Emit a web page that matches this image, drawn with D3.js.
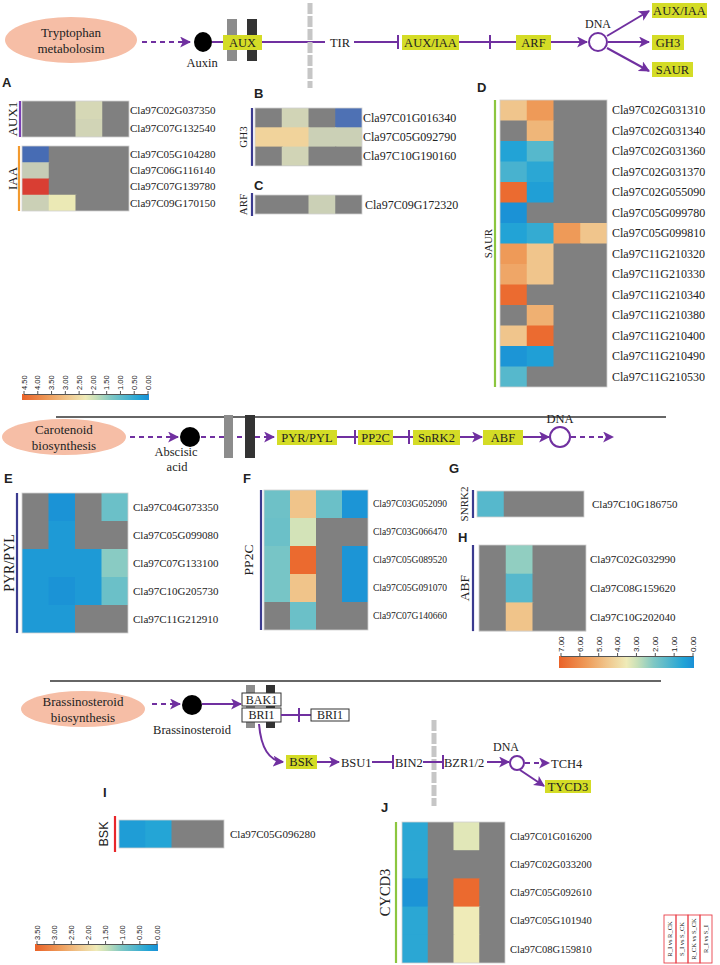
<!DOCTYPE html>
<html><head><meta charset="utf-8">
<script src="https://cdn.jsdelivr.net/npm/d3@7"></script>
<style>
body{margin:0;background:#fff}
svg{display:block}
text{font-family:"Liberation Serif","Times New Roman",serif;fill:#222}
</style>
</head><body>
<svg id="c" width="720" height="965"></svg>
<script>
// ---------------- DATA ----------------
const comparisons = ["R_I vs R_CK","S_I vs S_CK","R_CK vs S_CK","R_I vs S_I"];

const aux1Genes = ["Cla97C02G037350","Cla97C07G132540"];
const aux1Values = [[null,null,2.4,null],[null,null,2.3,null]];
const iaaGenes = ["Cla97C05G104280","Cla97C06G116140","Cla97C07G139780","Cla97C09G170150"];
const iaaValues = [[0.2,null,null,null],[2.1,null,null,null],[4.4,null,null,null],[2.2,2.8,null,null]];
const gh3Genes = ["Cla97C01G016340","Cla97C05G092790","Cla97C10G190160"];
const gh3Values = [[null,2.3,null,0.3],[3.3,3.3,2.2,2.2],[null,2.3,null,null]];
const arfGenes = ["Cla97C09G172320"];
const arfValues = [[null,null,2.2,null]];
const saurGenes = ["Cla97C02G031310","Cla97C02G031340","Cla97C02G031360","Cla97C02G031370","Cla97C02G055090","Cla97C05G099780","Cla97C05G099810","Cla97C11G210320","Cla97C11G210330","Cla97C11G210340","Cla97C11G210380","Cla97C11G210400","Cla97C11G210490","Cla97C11G210530"];
const saurValues = [[2.9,3.6,null,null],[null,3.15,null,null],[0.35,0.9,null,null],[0.75,0.45,null,null],[4.35,0.28,null,null],[0.05,null,null,null],[0.35,0.55,3.6,2.9],[3.6,2.9,null,null],[3.4,2.9,null,null],[4.35,null,null,null],[null,3.25,null,null],[2.9,4.35,null,null],[0.1,0.28,null,null],[0.9,null,null,null]];

const pyrGenes = ["Cla97C04G073350","Cla97C05G099080","Cla97C07G133100","Cla97C10G205730","Cla97C11G212910"];
const pyrValues = [[null,0.1,null,1.75],[null,0.3,null,null],[0.3,0.3,0.3,2.2],[0.3,0.1,0.3,1.75],[0.3,0.3,null,null]];
const pp2cGenes = ["Cla97C03G052090","Cla97C03G066470","Cla97C05G089520","Cla97C05G091070","Cla97C07G140660"];
const pp2cValues = [[1.8,4.55,1.75,0.15],[1.75,3.1,null,null],[1.95,6.8,null,0.15],[1.95,4.55,null,0.15],[null,1.75,null,null]];
const snrk2Genes = ["Cla97C10G186750"];
const snrk2Values = [[1.4,null,null,null]];
const abfGenes = ["Cla97C02G032990","Cla97C08G159620","Cla97C10G202040"];
const abfValues = [[null,2.3,null,null],[null,1.4,null,null],[null,4.55,null,null]];

const bskGenes = ["Cla97C05G096280"];
const bskValues = [[0.18,0.3,null,null]];
const cycd3Genes = ["Cla97C01G016200","Cla97C02G033200","Cla97C05G092610","Cla97C05G101940","Cla97C08G159810"];
const cycd3Values = [[0.35,null,1.65,null],[0.35,null,null,null],[0.07,null,3.4,null],[0.35,null,1.75,null],[0.35,null,1.75,null]];

const legend1Ticks = [4.5,4,3.5,3,2.5,2,1.5,1,0.5,0];
const legend2Ticks = [7,6,5,4,3,2,1,0];
const legend3Ticks = [3.5,3,2.5,2,1.5,1,0.5,0];

// ---------------- STYLE ----------------
const NA = "#808080";
const PUR = "#7030a0";
const YEL = "#d4dc26";
const SALMON = "#f6bea6";
const stopsT = [0,0.08,0.2,0.3,0.42,0.5,0.65,0.8,1];
const stopsC = ["#1a8fd6","#22a4d6","#56b8cc","#80c8c4","#c8e0b8","#efebb8","#f0c48a","#ee9a58","#ea6228"];
const mainT = d3.scaleLinear().domain(stopsT).range(stopsC).interpolate(d3.interpolateRgb).clamp(true);
const colorFor = max => v => mainT(v / max);
const colorA = d3.scaleLinear().domain([0,2.1,2.8,3.3,4.5]).range(["#3a62b4","#c6ccb6","#ebe9b5","#f1d39b","#d7302a"]).clamp(true);

const svg = d3.select("#c");
const defs = svg.append("defs");
defs.append("marker").attr("id","arr").attr("viewBox","0 0 10 10")
  .attr("refX",9).attr("refY",5).attr("markerWidth",11).attr("markerHeight",11)
  .attr("markerUnits","userSpaceOnUse").attr("orient","auto")
  .append("path").attr("d","M0,0 L10,5 L0,10 L2.5,5 Z").attr("fill",PUR);

// ---------------- HELPERS ----------------
function line(x1,y1,x2,y2,opt={}) {
  const l = svg.append("line").attr("x1",x1).attr("y1",y1).attr("x2",x2).attr("y2",y2)
    .attr("stroke",opt.color||PUR).attr("stroke-width",opt.w||2);
  if (opt.dash) l.attr("stroke-dasharray",opt.dash);
  if (opt.arrow) l.attr("marker-end","url(#arr)");
  return l;
}
function tbar(x,y,h=7){ line(x,y-h,x,y+h); }
function txt(x,y,s,opt={}) {
  return svg.append("text").attr("x",x).attr("y",y).text(s)
    .attr("font-size",opt.size||12.5).attr("text-anchor",opt.anchor||"middle")
    .style("font-family",opt.font||null).attr("font-weight",opt.weight||null);
}
function box(x,y,w,h,s,opt={}) {
  svg.append("rect").attr("x",x).attr("y",y).attr("width",w).attr("height",h)
    .attr("fill",opt.fill||YEL).attr("stroke",opt.stroke||"none").attr("stroke-width",1);
  txt(x+w/2,y+h/2+4.3,s,{size:opt.size||12.5});
}
function oval(cx,cy,rx,ry,l1,l2){
  svg.append("ellipse").attr("cx",cx).attr("cy",cy).attr("rx",rx).attr("ry",ry).attr("fill",SALMON);
  txt(cx,cy-3,l1,{size:13}); txt(cx,cy+13,l2,{size:13});
}
function grayDash(x,y1,y2){
  svg.append("line").attr("x1",x).attr("x2",x).attr("y1",y1).attr("y2",y2)
    .attr("stroke","#c6c6c6").attr("stroke-width",5).attr("stroke-dasharray","11,2");
}
function dnaCircle(cx,cy,r){
  svg.append("circle").attr("cx",cx).attr("cy",cy).attr("r",r).attr("fill","#fff").attr("stroke",PUR).attr("stroke-width",2);
}
function sectionLabel(x,y,s){
  txt(x,y,s,{size:13,anchor:"start",font:"'Liberation Sans',Arial,sans-serif",weight:"bold"});
}

function heatmap(o) {
  const n = o.genes.length;
  const x = d3.scaleBand().domain(comparisons).range([o.x, o.x + o.w]);
  const y = d3.scaleBand().domain(o.genes).range([o.y, o.y + o.rowH * n]);
  const cells = [];
  o.genes.forEach((g,i)=>o.values[i].forEach((v,j)=>cells.push({g,c:comparisons[j],v,i,j})));
  const gg = svg.append("g");
  // background so no seams show through
  gg.append("rect").attr("x",o.x).attr("y",o.y).attr("width",o.w).attr("height",o.rowH*n).attr("fill",NA);
  gg.selectAll("rect.cell").data(cells).join("rect").attr("class","cell")
    .attr("x",d=>x(d.c)).attr("y",d=>y(d.g))
    .attr("width",d=>x.bandwidth()+(d.j<3?1:0)).attr("height",d=>y.bandwidth()+(d.i<n-1?1:0))
    .attr("fill",d=>d.v==null?NA:o.color(d.v));
  gg.append("rect").attr("x",o.x).attr("y",o.y).attr("width",o.w).attr("height",o.rowH*n)
    .attr("fill","none").attr("stroke","#cfcfcf").attr("stroke-width",0.8);
  gg.selectAll("text.lab").data(o.genes).join("text").attr("class","lab")
    .attr("x",o.x+o.w+o.labGap).attr("y",d=>y(d)+y.bandwidth()/2)
    .attr("dy","0.35em").attr("font-size",o.labSize).text(d=>d);
  if (o.group) {
    const y0 = o.y - (o.barExt||0), y1 = o.y + o.rowH*n + (o.barExt||0);
    svg.append("line").attr("x1",o.barX).attr("x2",o.barX).attr("y1",y0).attr("y2",y1)
      .attr("stroke",o.barColor).attr("stroke-width",2.2);
    svg.append("text").attr("transform",`translate(${o.textX},${(y0+y1)/2}) rotate(-90)`)
      .attr("text-anchor","middle").attr("dy","0.35em").attr("font-size",o.groupSize)
      .style("font-family",o.groupFont||null).text(o.group);
  }
}

function legend(o) {
  const id = "g"+o.id;
  const gr = defs.append("linearGradient").attr("id",id);
  for (let i = stopsT.length-1; i >= 0; i--)
    gr.append("stop").attr("offset",((1-stopsT[i])*100)+"%").attr("stop-color",stopsC[i]);
  svg.append("rect").attr("x",o.x).attr("y",o.y).attr("width",o.w).attr("height",o.h).attr("fill",`url(#${id})`);
  const s = d3.scaleLinear().domain([o.ticks[0],0]).range([o.x+1.5,o.x+o.w-1.5]);
  const ax = svg.append("g").attr("transform",`translate(0,${o.y})`)
    .call(d3.axisTop(s).tickValues(o.ticks).tickSize(3).tickSizeOuter(0).tickFormat(d3.format(".2f")));
  ax.select(".domain").attr("stroke","#555");
  ax.selectAll(".tick line").attr("stroke","#555");
  ax.selectAll(".tick text").attr("transform","rotate(-90)").attr("text-anchor","start")
    .attr("x",4).attr("y",0).attr("dy","0.35em").attr("font-size",o.fs)
    .style("font-family","'Liberation Sans',Arial,sans-serif").attr("fill","#333");
}

// ---------------- PATHWAY 1 : AUXIN ----------------
oval(71,40,66,23,"Tryptophan","metabolosim");
line(142,42,190,42,{dash:"5,4",arrow:true});
svg.append("ellipse").attr("cx",203).attr("cy",42).attr("rx",9).attr("ry",10).attr("fill","#000");
txt(202,67,"Auxin",{size:12.5});
line(212,42,325,42);
svg.append("rect").attr("x",227).attr("y",19).attr("width",10).attr("height",42).attr("fill","#8c8c8c");
svg.append("rect").attr("x",247).attr("y",19).attr("width",10).attr("height",42).attr("fill","#333");
box(223,35,39,15,"AUX");
grayDash(310,3,88);
txt(340,46.5,"TIR");
line(354,42,398,42); tbar(398,42);
box(402,35,57,15,"AUX/IAA");
line(459,42,516,42); tbar(490,42);
box(516,35,35,15,"ARF");
line(551,42,587,42,{arrow:true});
dnaCircle(598,42,9);
txt(598,28,"DNA",{size:12});
line(607,36,649,11,{arrow:true});
line(608,42,649,42,{arrow:true});
line(607,48,649,71,{arrow:true});
box(652,3,55,15,"AUX/IAA");
box(652,35,32,15,"GH3");
box(652,62,41,15,"SAUR");

// ---------------- PANELS A-D ----------------
sectionLabel(2,87,"A"); sectionLabel(254,98,"B"); sectionLabel(254,190,"C"); sectionLabel(477,92,"D");
heatmap({genes:aux1Genes,values:aux1Values,color:colorA,x:22,y:101,w:107,rowH:18,labGap:1,labSize:11,
  group:"AUX1",barX:20,barColor:"#7a3fb5",textX:12,groupSize:13});
heatmap({genes:iaaGenes,values:iaaValues,color:colorA,x:22,y:146,w:107,rowH:16.25,labGap:1,labSize:11,
  group:"IAA",barX:19,barColor:"#f39a2e",textX:12,groupSize:13});
heatmap({genes:gh3Genes,values:gh3Values,color:colorA,x:255,y:108,w:107,rowH:19.3,labGap:1,labSize:12,
  group:"GH3",barX:252,barColor:"#3b3b8f",textX:243,groupSize:11});
heatmap({genes:arfGenes,values:arfValues,color:colorA,x:255,y:195,w:107,rowH:19,labGap:3,labSize:12,
  group:"ARF",barX:252,barColor:"#3b3b8f",textX:243,groupSize:11,barExt:2});
heatmap({genes:saurGenes,values:saurValues,color:colorFor(4.5),x:500,y:100,w:107,rowH:20.5,labGap:5,labSize:12,
  group:"SAUR",barX:495,barColor:"#8cc63f",textX:488,groupSize:11});
legend({id:1,x:22,y:394,w:127,h:6,ticks:legend1Ticks,fs:7.5});

line(56,417,666,417,{color:"#333",w:1.3});

// ---------------- PATHWAY 2 : ABA ----------------
oval(64,437,62,18,"Carotenoid","biosynthesis");
line(130,437,178,437,{dash:"5,4",arrow:true});
svg.append("circle").attr("cx",190).attr("cy",437).attr("r",10).attr("fill","#000");
txt(176,456,"Abscisic"); txt(177,471,"acid");
line(201,437,274,437,{dash:"5,4",arrow:true});
svg.append("rect").attr("x",224).attr("y",415).attr("width",9).attr("height",43).attr("fill","#8c8c8c");
svg.append("rect").attr("x",245).attr("y",415).attr("width",10).attr("height",43).attr("fill","#333");
box(277,430,60,15,"PYR/PYL");
line(337,437,358,437); tbar(355,437);
box(358,430,35,15,"PP2C");
line(393,437,413,437); tbar(409,437);
box(413,430,47,15,"SnRK2");
line(460,437,482,437,{arrow:true});
box(483,430,40,15,"ABF");
line(523,437,549,437,{arrow:true});
dnaCircle(560,437,10);
txt(560,423,"DNA",{size:12.5});
line(571,437,613,437,{dash:"5,4",arrow:true});

// ---------------- PANELS E-H ----------------
sectionLabel(4,483,"E"); sectionLabel(243,483,"F"); sectionLabel(449,473,"G"); sectionLabel(458,542,"H");
heatmap({genes:pyrGenes,values:pyrValues,color:colorFor(7),x:22,y:493,w:106,rowH:28,labGap:5,labSize:11,
  group:"PYR/PYL",barX:17,barColor:"#3b3b8f",textX:9,groupSize:14});
heatmap({genes:pp2cGenes,values:pp2cValues,color:colorFor(7),x:264,y:490,w:104,rowH:28,labGap:5,labSize:9.5,
  group:"PP2C",barX:261,barColor:"#3b3b8f",textX:248,groupSize:13.5});
heatmap({genes:snrk2Genes,values:snrk2Values,color:colorFor(7),x:477,y:491,w:107,rowH:26,labGap:8,labSize:11,
  group:"SNRK2",barX:473,barColor:"#3b3b8f",textX:464,groupSize:11,barExt:1});
heatmap({genes:abfGenes,values:abfValues,color:colorFor(7),x:479,y:545,w:107,rowH:28.7,labGap:4,labSize:11,
  group:"ABF",barX:473,barColor:"#3b3b8f",textX:464,groupSize:13.5});
legend({id:2,x:559,y:656,w:135,h:12,ticks:legend2Ticks,fs:8});

line(50,681,661,681,{color:"#333",w:1.3});

// ---------------- PATHWAY 3 : BR ----------------
oval(83,709,62,18,"Brassinosteroid","biosynthesis");
line(152,704,180,704,{dash:"5,4",arrow:true});
svg.append("ellipse").attr("cx",192).attr("cy",705).attr("rx",10).attr("ry",10).attr("fill","#000");
txt(192,734,"Brassinosteroid",{size:12.5});
line(202,704,241,704,{arrow:true});
svg.append("rect").attr("x",246).attr("y",685).attr("width",9).attr("height",43).attr("fill","#8c8c8c");
svg.append("rect").attr("x",266).attr("y",685).attr("width",9).attr("height",43).attr("fill","#333");
box(242,693,39,13,"BAK1",{fill:"#fff",stroke:"#333",size:12});
box(242,708,39,14,"BRI1",{fill:"#fff",stroke:"#333",size:12});
line(281,715,311,715); tbar(299,715);
box(311,709,38,12,"BRI1",{fill:"#fff",stroke:"#333",size:12});
svg.append("path").attr("d","M259,724 Q262,760 283,762").attr("fill","none")
  .attr("stroke",PUR).attr("stroke-width",2).attr("marker-end","url(#arr)");
box(286,755,31,14,"BSK");
line(317,762,339,762,{arrow:true});
txt(341,766.5,"BSU1",{anchor:"start"});
line(372,762,393,762); tbar(393,762);
txt(395,766.5,"BIN2",{anchor:"start"});
grayDash(434,720,806);
line(423,762,443,762); tbar(443,762);
txt(444,766.5,"BZR1/2",{anchor:"start"});
line(487,762,509,762,{arrow:true});
dnaCircle(517,763,7);
txt(506,751,"DNA",{size:12});
line(525,763,549,763,{dash:"5,4",arrow:true});
txt(551,767.5,"TCH4",{anchor:"start"});
line(520,770,544,786,{arrow:true});
box(545,780,46,13,"TYCD3");

// ---------------- PANELS I-J ----------------
sectionLabel(103,797,"I"); sectionLabel(381,812,"J");
heatmap({genes:bskGenes,values:bskValues,color:colorFor(3.5),x:119,y:820,w:105,rowH:28,labGap:6,labSize:11,
  group:"BSK",barX:115,barColor:"#e8262a",textX:104,groupSize:12.5,groupFont:"'Liberation Sans',Arial,sans-serif",barExt:4});
heatmap({genes:cycd3Genes,values:cycd3Values,color:colorFor(3.5),x:402,y:822,w:103,rowH:28.2,labGap:5,labSize:10.5,
  group:"CYCD3",barX:396,barColor:"#8cc63f",textX:385,groupSize:14.5});
legend({id:3,x:35,y:944,w:123,h:7,ticks:legend3Ticks,fs:7.5});

// sample legend
const sg = svg.append("g");
comparisons.forEach((c,i)=>{
  const x0 = 664 + i*12;
  sg.append("rect").attr("x",x0).attr("y",915).attr("width",12).attr("height",48)
    .attr("fill","none").attr("stroke","#e8404a").attr("stroke-width",0.9);
  sg.append("text").attr("transform",`translate(${x0+6},939) rotate(-90)`).attr("text-anchor","middle")
    .attr("dy","0.35em").attr("font-size",6.5).text(c);
});
</script>
</body></html>
